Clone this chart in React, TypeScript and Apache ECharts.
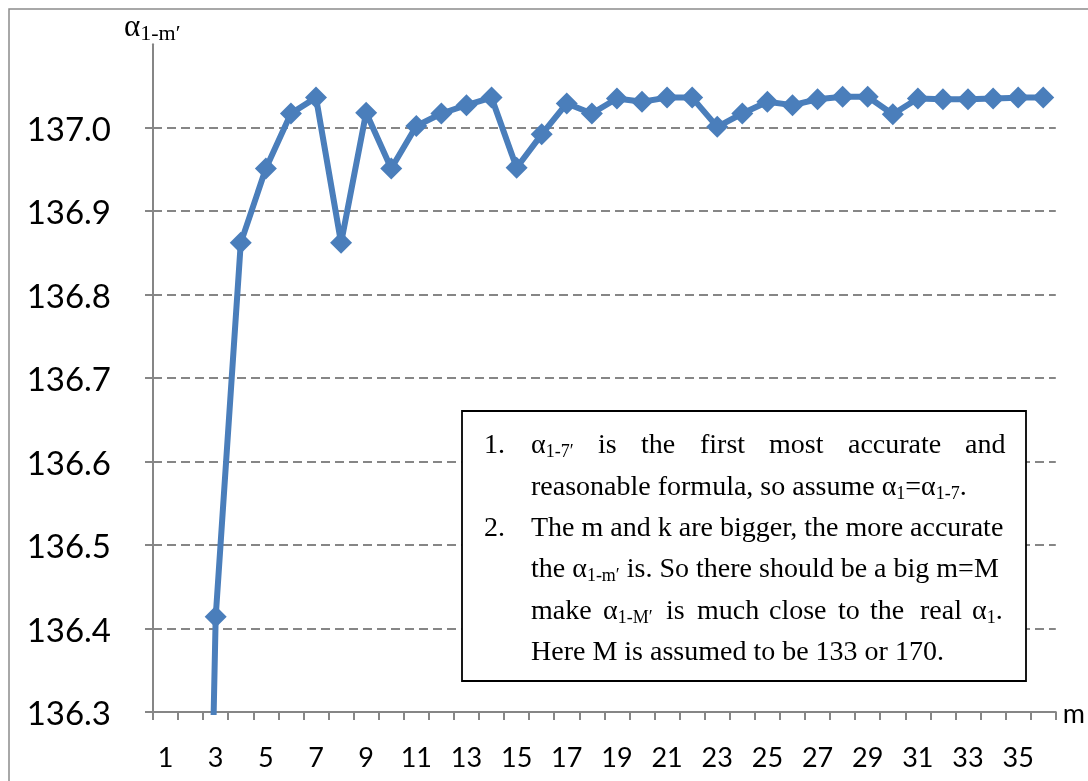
import React, { useEffect, useRef } from 'react';
import * as echarts from 'echarts';

const mLabels = ['1', '2', '3', '4', '5', '6', '7', '8', '9', '10', '11', '12', '13', '14', '15', '16', '17', '18', '19', '20', '21', '22', '23', '24', '25', '26', '27', '28', '29', '30', '31', '32', '33', '34', '35', '36'];
const alphaValues = [133.0, 134.99, 136.414, 136.862, 136.951, 137.017, 137.036, 136.862, 137.018, 136.951, 137.002, 137.017, 137.027, 137.036, 136.952, 136.992, 137.029, 137.017, 137.035, 137.031, 137.036, 137.036, 137.001, 137.017, 137.031, 137.027, 137.034, 137.037, 137.037, 137.016, 137.035, 137.034, 137.034, 137.035, 137.036, 137.036];
const yTickValues = [136.3, 136.4, 136.5, 136.6, 136.7, 136.8, 136.9, 137.0];
const yAxisTitle = 'α{s|1-m′}';
const xAxisName = 'm';
const note1Number = '1.';
const note2Number = '2.';
const note1Line1Words = ['α{s|1-7′}', 'is', 'the', 'first', 'most', 'accurate', 'and'];
const note1Line2 = 'reasonable formula, so assume α{s|1}=α{s|1-7}.';
const note2Line1 = 'The m and k are bigger, the more accurate';
const note2Line2 = 'the α{s|1-m′} is. So there should be a big m=M';
const note2Line3Words = ['make', 'α{s|1-M′}', 'is', 'much', 'close', 'to', 'the', 'real', 'α{s|1}.'];
const note2Line4 = 'Here M is assumed to be 133 or 170.';

export default function App() {
  const ref = useRef<HTMLDivElement>(null);
  useEffect(() => {
    const chart = echarts.init(ref.current!, null, { renderer: 'svg' });
    const SANS = 'Lato, "Open Sans", sans-serif';
    const SERIF = '"Liberation Serif", "Times New Roman", serif';
    const axisGray = '#868686';
    const blue = '#4a7ebb';

    const noteText = (text: string, x: number, y: number) => ({
      type: 'text',
      x,
      y,
      z: 11,
      style: {
        text,
        fontFamily: SERIF,
        fontSize: 28,
        lineHeight: 33,
        fill: '#000',
        align: 'left',
        verticalAlign: 'middle',
        rich: {
          s: { fontFamily: SERIF, fontSize: 18, lineHeight: 18, verticalAlign: 'bottom', fill: '#000' },
        },
      },
    });

    const lineYs = [443.8, 485.1, 526.4, 567.7, 609, 650.3];
    const textLeft = 531;
    const line1Xs = [531, 598, 641, 700, 769, 848, 965];
    const line5Xs = [531, 603, 666, 697, 769, 838, 870, 920, 972];

    const graphics: any[] = [
      {
        type: 'rect',
        z: 0,
        silent: true,
        shape: { x: 9, y: 9, width: 1100, height: 800 },
        style: { fill: 'none', stroke: '#8c8c8c', lineWidth: 1.5 },
      },
      {
        type: 'text',
        x: 124,
        y: 25,
        z: 11,
        style: {
          text: yAxisTitle,
          fontFamily: SERIF,
          fontSize: 31,
          lineHeight: 36,
          fill: '#000',
          align: 'left',
          verticalAlign: 'middle',
          rich: {
            s: { fontFamily: SERIF, fontSize: 22, lineHeight: 22, verticalAlign: 'bottom', fill: '#000' },
          },
        },
      },
      {
        type: 'rect',
        z: 10,
        shape: { x: 462, y: 411, width: 564, height: 270 },
        style: { fill: '#ffffff', stroke: '#000000', lineWidth: 1.8 },
      },
      noteText(note1Number, 484, lineYs[0]),
      ...note1Line1Words.map((w, i) => noteText(w, line1Xs[i], lineYs[0])),
      noteText(note1Line2, textLeft, lineYs[1]),
      noteText(note2Number, 484, lineYs[2]),
      noteText(note2Line1, textLeft, lineYs[2]),
      noteText(note2Line2, textLeft, lineYs[3]),
      ...note2Line3Words.map((w, i) => noteText(w, line5Xs[i], lineYs[4])),
      noteText(note2Line4, textLeft, lineYs[5]),
    ];

    chart.setOption({
      animation: false,
      grid: { left: 153, right: 32, top: 44.2, bottom: 69, containLabel: false },
      xAxis: {
        type: 'category',
        data: mLabels,
        boundaryGap: true,
        name: xAxisName,
        nameLocation: 'end',
        nameGap: 7,
        nameTextStyle: { fontFamily: SANS, fontSize: 27, color: '#000', verticalAlign: 'middle', padding: [4, 0, 0, 0] },
        axisLine: { show: true, lineStyle: { color: axisGray, width: 2 } },
        axisTick: { show: true, interval: 0, length: 8, inside: false, alignWithLabel: false, lineStyle: { color: axisGray, width: 2 } },
        axisLabel: { interval: 1, fontFamily: SANS, fontSize: 27, color: '#000', margin: 31 },
        splitLine: { show: false },
      },
      yAxis: {
        type: 'value',
        min: 136.3,
        max: 137.1,
        interval: 0.1,
        axisLine: { show: true, lineStyle: { color: axisGray, width: 2 } },
        axisTick: { show: true, length: 8, inside: false, customValues: yTickValues, lineStyle: { color: axisGray, width: 2 } },
        axisLabel: {
          customValues: yTickValues,
          fontFamily: SANS,
          fontSize: 33,
          color: '#000',
          margin: 42,
          formatter: (v: number) => (v > 137.05 ? '' : v.toFixed(1)),
        },
        splitLine: {
          show: true,
          showMaxLine: true,
          showMinLine: false,
          lineStyle: { color: axisGray, width: 2, type: [9, 5] },
        },
      },
      series: [
        {
          type: 'line',
          data: alphaValues,
          symbol: 'diamond',
          symbolSize: 22,
          showAllSymbol: true,
          clip: true,
          z: 3,
          lineStyle: { color: blue, width: 6 },
          itemStyle: { color: blue },
        },
      ],
      graphic: { elements: graphics },
    } as any);

    return () => chart.dispose();
  }, []);
  return <div ref={ref} style={{ position: 'fixed', left: 0, top: 0, width: 1088, height: 781 }} />;
}
